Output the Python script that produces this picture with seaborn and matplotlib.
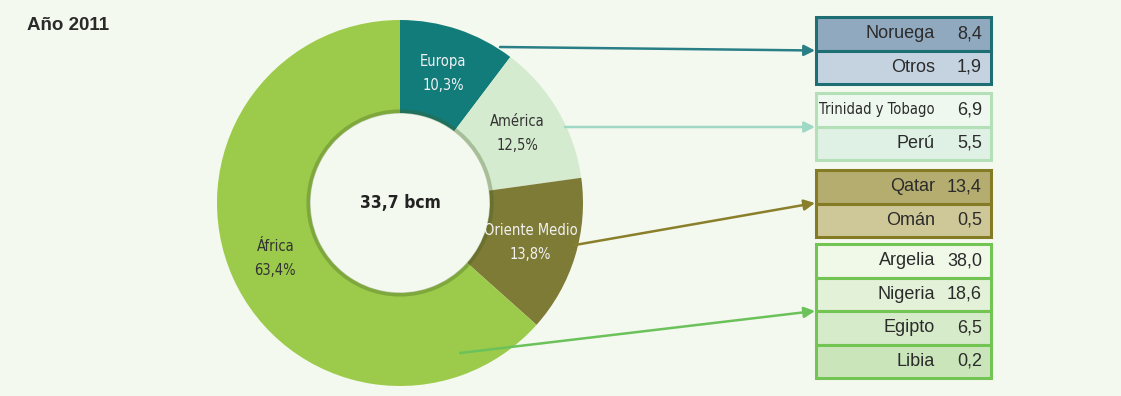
import numpy as np
import matplotlib
matplotlib.use('Agg')
import matplotlib.pyplot as plt
import seaborn as sns
from matplotlib.patches import Rectangle, Circle
from matplotlib import font_manager

sns.set_theme(style='white')
plt.rcParams['font.family'] = ['Liberation Sans', 'DejaVu Sans']

# datos
regiones = ['Europa', 'América', 'Oriente Medio', 'África']
pct = [10.3, 12.5, 13.8, 63.4]
total = '33,7 bcm'
titulo = 'Año 2011'

paises_europa = ['Noruega', 'Otros']
valores_europa = [8.4, 1.9]
paises_america = ['Trinidad y Tobago', 'Perú']
valores_america = [6.9, 5.5]
paises_oriente = ['Qatar', 'Omán']
valores_oriente = [13.4, 0.5]
paises_africa = ['Argelia', 'Nigeria', 'Egipto', 'Libia']
valores_africa = [38.0, 18.6, 6.5, 0.2]

col_anillo = ['#127c7a', '#d5ebcf', '#7e7b36', '#9ccb4b']
col_texto = ['#f2f2f2', '#333333', '#f2f2f2', '#333333']
fondo = '#f4f9ef'


# fuente estrecha (normal y negrita) si existe
def es_estrecha(f):
    return f.stretch in ('condensed', 'semi-condensed', 'extra-condensed') or 'Narrow' in f.name or 'Condensed' in f.name


def peso(f):
    w = f.weight
    if isinstance(w, str):
        w = {'normal': 400, 'regular': 400, 'bold': 700}.get(w, 400)
    return w


cands = [f for f in font_manager.fontManager.ttflist if es_estrecha(f) and f.style == 'normal']
normal = [f for f in cands if peso(f) == 400]
negrita = [f for f in cands if peso(f) >= 600]
fp_c = font_manager.FontProperties(fname=normal[0].fname) if normal else font_manager.FontProperties(family='DejaVu Sans')
fp_b = font_manager.FontProperties(fname=negrita[0].fname) if negrita else font_manager.FontProperties(family='DejaVu Sans', weight='bold')
hay_estrecha = bool(normal)

W, H = 1121, 396
fig = plt.figure(figsize=(W / 100, H / 100), dpi=100, facecolor=fondo)
ax = fig.add_axes([0, 0, 1, 1])

cx, cy = 400, H - 203
r_ext, r_int = 183, 90

ax.pie(pct, colors=col_anillo, startangle=90, counterclock=False,
       center=(cx, cy), radius=r_ext, frame=True,
       wedgeprops=dict(width=r_ext - r_int, edgecolor='none'))
ax.set_xlim(0, W)
ax.set_ylim(0, H)
ax.set_aspect('equal')
ax.set_facecolor(fondo)
ax.axis('off')

# sombra suave en el borde interior
ax.add_patch(Circle((cx, cy), r_int + 1.5, fill=False, ec='#3e5a1c', lw=3, alpha=0.3))

# etiquetas del anillo
acum = np.cumsum([0] + pct[:-1])
r_lab = (r_ext + r_int) / 2
for nombre, p, a0, c in zip(regiones, pct, acum, col_texto):
    ang = np.deg2rad((a0 + p / 2) * 3.6)
    x = cx + r_lab * np.sin(ang)
    y = cy + r_lab * np.cos(ang)
    fp = fp_c.copy()
    fp.set_size(10.5 if hay_estrecha else 9)
    ax.text(x, y + 12, nombre, ha='center', va='center', color=c, fontproperties=fp)
    ax.text(x, y - 12, f'{p:.1f}%'.replace('.', ','), ha='center', va='center',
            color=c, fontproperties=fp)

fpb = fp_b.copy()
fpb.set_size(12.5)
ax.text(cx, cy, total, ha='center', va='center', color='#222222', fontproperties=fpb)
ax.text(27, H - 25, titulo, ha='left', va='center', fontsize=13.5, fontweight='bold',
        color='#2a2a2a')

# cajas de paises
bx0, bw, fila = 816, 175, 33.5
grupos = [
    (paises_europa, valores_europa, ['#91a9bf', '#c5d3e1'], '#1d6f74', 17),
    (paises_america, valores_america, ['#eef8ef', '#dff0e4'], '#b3e0b6', 93),
    (paises_oriente, valores_oriente, ['#b4ad6f', '#cec899'], '#857b25', 170),
    (paises_africa, valores_africa, ['#f0f8e8', '#e3f1d8', '#d6ebc9', '#cbe5bb'], '#72c552', 244),
]
for paises, vals, fills, borde, top in grupos:
    for i, (pa, v, f) in enumerate(zip(paises, vals, fills)):
        y0 = H - top - (i + 1) * fila
        ax.add_patch(Rectangle((bx0, y0), bw, fila, fc=f, ec=borde, lw=2.2, zorder=3))
        if len(pa) > 10:
            fpn = fp_c.copy()
            fpn.set_size(10.5 if hay_estrecha else 9)
            ax.text(935, y0 + fila / 2, pa, ha='right', va='center', color='#2b2b2b',
                    fontproperties=fpn, zorder=4)
        else:
            ax.text(935, y0 + fila / 2, pa, ha='right', va='center', fontsize=13,
                    color='#2b2b2b', zorder=4)
        ax.text(982, y0 + fila / 2, f'{v:.1f}'.replace('.', ','), ha='right', va='center',
                fontsize=13, color='#2b2b2b', zorder=4)

# flechas
flechas = [
    ((500, 47), (815, 50.5), '#2a7f87'),
    ((565, 127), (815, 127), '#9fd8c4'),
    ((575, 245), (815, 203), '#8a7f2a'),
    ((460, 353), (815, 311), '#6cc25a'),
]
for (x0, y0), (x1, y1), c in flechas:
    ax.annotate('', xy=(x1, H - y1), xytext=(x0, H - y0),
                arrowprops=dict(arrowstyle='-|>', color=c, lw=1.8, mutation_scale=16,
                                shrinkA=0, shrinkB=0), zorder=5)

fig.savefig('out.png', dpi=100, facecolor=fondo)
